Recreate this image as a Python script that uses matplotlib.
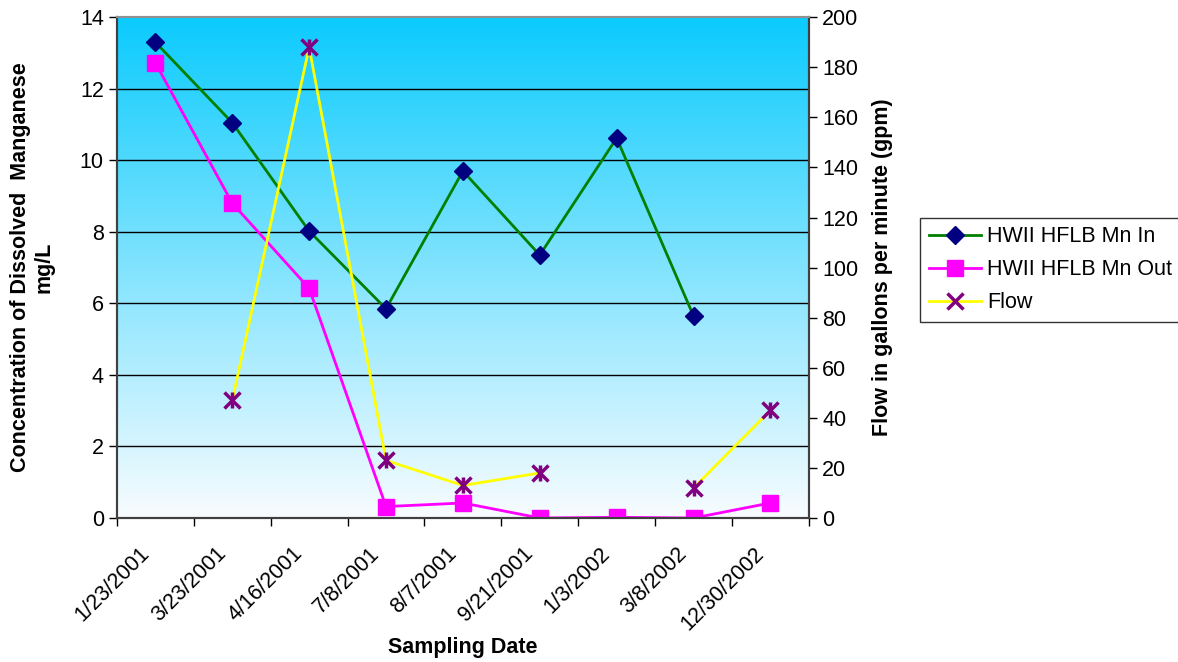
import numpy as np
import matplotlib.pyplot as plt
from matplotlib.colors import LinearSegmentedColormap
from matplotlib.transforms import ScaledTranslation

dates = ['1/23/2001', '3/23/2001', '4/16/2001', '7/8/2001', '8/7/2001',
         '9/21/2001', '1/3/2002', '3/8/2002', '12/30/2002']
mn_in = [13.3, 11.05, 8.02, 5.85, 9.7, 7.35, 10.62, 5.65, np.nan]
mn_out = [12.72, 8.8, 6.42, 0.32, 0.42, 0.0, 0.02, 0.0, 0.42]
flow = [np.nan, 47, 188, 23, 13, 18, np.nan, 12, 43]

plt.rcParams['font.family'] = ['Liberation Sans', 'DejaVu Sans']
fs = 15.5

fig = plt.figure(figsize=(11.78, 6.62), dpi=100)
ax = fig.add_axes([0.0993, 0.2175, 0.5873, 0.7565])
x = np.arange(len(dates))

# gradient background
cmap = LinearSegmentedColormap.from_list('bg', ['#f8fcff', '#0bcbfd'])
grad = np.linspace(0, 1, 256).reshape(-1, 1)
ax.imshow(grad, extent=[0, 1, 0, 1], transform=ax.transAxes, origin='lower',
          cmap=cmap, aspect='auto', zorder=0)

ax.set_xlim(-0.5, len(dates) - 0.5)
ax.set_ylim(0, 14)
ax.set_yticks(np.arange(0, 15, 2))
for v in range(2, 14, 2):
    ax.axhline(v, color='black', lw=1, zorder=1)

l1, = ax.plot(x, mn_in, color='#008000', lw=2, marker='D', ms=9,
              mfc='#000080', mec='#000080', label='HWII HFLB Mn In', zorder=4)
l2, = ax.plot(x, mn_out, color='#ff00ff', lw=2, marker='s', ms=12,
              mfc='#ff00ff', mec='#ff00ff', label='HWII HFLB Mn Out', zorder=3)

ax2 = ax.twinx()
ax2.set_ylim(0, 200)
ax2.set_yticks(np.arange(0, 201, 20))
l3, = ax2.plot(x, flow, color='#ffff00', lw=2, marker='x', ms=12, mew=2.5,
               mec='#800080', label='Flow', zorder=3)
ax2.plot(x, flow, ls='none', marker='|', ms=12, mew=2.5, mec='#800080', zorder=4)

ax.set_xticks(x)
ax.set_xticklabels(dates, rotation=45, ha='right', rotation_mode='anchor', fontsize=fs)
ax.tick_params(axis='x', length=0, pad=10)
shift = ScaledTranslation(-0.17, -0.11, fig.dpi_scale_trans)
for lab in ax.get_xticklabels():
    lab.set_transform(lab.get_transform() + shift)
ax.set_xticks(np.arange(-0.5, len(dates), 1), minor=True)
ax.tick_params(axis='x', which='minor', length=6, direction='out', width=1)
ax.tick_params(axis='y', labelsize=fs, length=6, width=1)
ax2.tick_params(axis='y', labelsize=fs, length=6, width=1)

for a in (ax, ax2):
    for s in a.spines.values():
        s.set_color('#404040')
        s.set_linewidth(1.5)
ax.spines['top'].set_color('#909090')
ax2.spines['top'].set_color('#909090')

ax.set_xlabel('Sampling Date', fontsize=fs, fontweight='bold', labelpad=2)
ax.set_ylabel('Concentration of Dissolved  Manganese\nmg/L', fontsize=fs,
              fontweight='bold', labelpad=18)
ax2.set_ylabel('Flow in gallons per minute (gpm)', fontsize=fs,
               fontweight='bold', labelpad=10)

leg = fig.legend(handles=[l1, l2, l3], loc='upper left',
                 bbox_to_anchor=(0.781, 0.671), fontsize=fs, frameon=True,
                 fancybox=False, edgecolor='black', handlelength=2.45,
                 borderpad=0.4, labelspacing=0.55, handletextpad=0.25,
                 borderaxespad=0)
leg.get_frame().set_linewidth(1)

fig.savefig('out.png', dpi=100)
